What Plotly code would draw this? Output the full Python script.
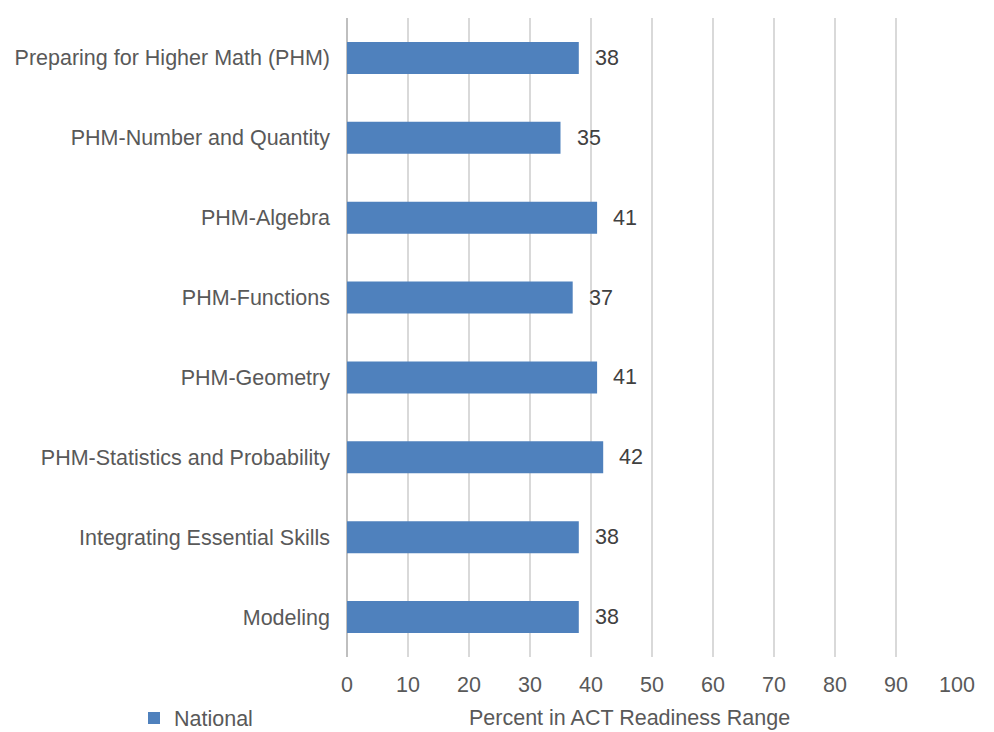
import plotly.graph_objects as go

categories = [
    "Preparing for Higher Math (PHM)",
    "PHM-Number and Quantity",
    "PHM-Algebra",
    "PHM-Functions",
    "PHM-Geometry",
    "PHM-Statistics and Probability",
    "Integrating Essential Skills",
    "Modeling",
]
national = [38, 35, 41, 37, 41, 42, 38, 38]
x_ticks = [0, 10, 20, 30, 40, 50, 60, 70, 80, 90, 100]
series_name = "National"
axis_title = "Percent in ACT Readiness Range"

FONT = "Liberation Sans, Arial, sans-serif"
FS = 21.5

# page is offset by 8px (body margin); figure coords = page coords - 8
W, H = 986, 724
L, R, T, B = 339, 37, 10, 75
plot_w = W - L - R
plot_h = H - T - B

fig = go.Figure()
fig.add_trace(go.Bar(
    y=categories, x=national, orientation="h", name=series_name,
    marker=dict(color="#4f81bd", line=dict(width=0)),
    showlegend=True,
))

for c, v in zip(categories, national):
    fig.add_annotation(x=v, y=c, text=str(v), xref="x", yref="y",
                       xanchor="left", yanchor="middle", xshift=14, showarrow=False,
                       font=dict(family=FONT, size=FS, color="#404040"))

fig.add_annotation(x=(629 - 347) / plot_w, y=-(718 - 657) / plot_h,
                   xref="paper", yref="paper", text=axis_title,
                   showarrow=False, xanchor="center", yanchor="middle",
                   font=dict(family=FONT, size=FS, color="#595959"))

fig.update_layout(
    width=W, height=H,
    margin=dict(l=L, r=R, t=T, b=B, autoexpand=False),
    paper_bgcolor="white", plot_bgcolor="white",
    font=dict(family=FONT, size=FS, color="#595959"),
    bargap=0.6,
    showlegend=True,
    legend=dict(orientation="h", x=(134 - 347) / plot_w, y=-(718 - 657) / plot_h,
                xanchor="left", yanchor="middle",
                font=dict(family=FONT, size=FS, color="#595959"),
                itemwidth=30, bgcolor="rgba(0,0,0,0)"),
    xaxis=dict(range=[0, 100], tickvals=x_ticks, showgrid=True, gridcolor="#d9d9d9",
               gridwidth=1.5, zeroline=True, zerolinecolor="#bfbfbf", zerolinewidth=2,
               showline=False, ticks="", ticklabelstandoff=12,
               tickfont=dict(family=FONT, size=FS, color="#595959")),
    yaxis=dict(categoryorder="array", categoryarray=categories[::-1], autorange=False,
               range=[-0.5, len(categories) - 0.5],
               showgrid=False, zeroline=False, ticks="", ticklabelstandoff=16,
               tickfont=dict(family=FONT, size=FS, color="#595959")),
)

fig.write_html("out.html")
